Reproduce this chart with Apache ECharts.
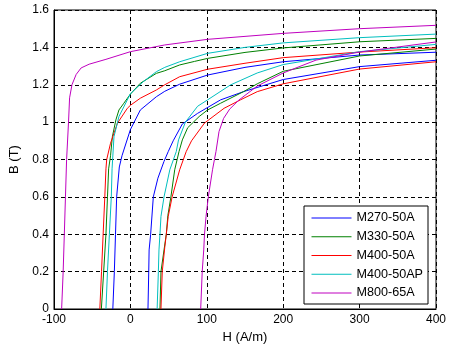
<!DOCTYPE html>
<html>
<head>
<meta charset="utf-8">
<script src="https://cdn.jsdelivr.net/npm/echarts@6/dist/echarts.min.js"></script>
<style>html,body{margin:0;padding:0;background:#fff;}#c{width:452px;height:350px;}</style>
</head>
<body>
<div id="c"></div>
<script>
// ---- Data (H in A/m, B in T) ----
const materials = ['M270-50A', 'M330-50A', 'M400-50A', 'M400-50AP', 'M800-65A'];
const colors = ['#0000FF', '#008000', '#FF0000', '#00BFBF', '#BF00BF'];
const xTicks = [-100, 0, 100, 200, 300, 400];
const yTicks = [0, 0.2, 0.4, 0.6, 0.8, 1, 1.2, 1.4, 1.6];

// M270-50A
const m270_upper_H = [-23, -21, -19.5, -18, -14.5, -11, -8.6, 0, 13, 34, 45, 64.5, 101, 150, 200, 300, 400];
const m270_upper_B = [0, 0.2, 0.4, 0.6, 0.76, 0.82, 0.851, 0.96, 1.065, 1.136, 1.165, 1.203, 1.252, 1.293, 1.323, 1.359, 1.374];
const m270_lower_H = [23, 24, 24.5, 26.5, 30, 36, 44, 49.5, 56, 68, 88, 118, 148, 200, 300, 400];
const m270_lower_B = [0, 0.2, 0.316, 0.4, 0.6, 0.7, 0.79, 0.842, 0.9, 0.99, 1.047, 1.119, 1.163, 1.228, 1.297, 1.331];

// M330-50A
const m330_upper_H = [-38, -35, -32, -30, -28.5, -26, -23.6, -19, -15, -8.6, 0, 13, 34, 45, 64.5, 84, 101, 150, 200, 300, 400];
const m330_upper_B = [0, 0.2, 0.4, 0.6, 0.75, 0.82, 0.922, 1.012, 1.065, 1.101, 1.15, 1.208, 1.261, 1.275, 1.306, 1.325, 1.341, 1.373, 1.397, 1.43, 1.448];
const m330_lower_H = [38.7, 40, 44, 47, 49, 53, 58, 63.6, 68, 75, 90, 101, 118, 148, 166, 200, 300, 400];
const m330_lower_B = [0, 0.2, 0.316, 0.4, 0.5, 0.6, 0.745, 0.842, 0.905, 0.97, 1.03, 1.065, 1.101, 1.163, 1.205, 1.272, 1.354, 1.391];

// M400-50A
const m400_upper_H = [-40, -37.8, -35.7, -33.5, -32, -31, -26, -17, -4, 0, 13, 34, 45, 64.5, 101, 150, 200, 300, 400];
const m400_upper_B = [0, 0.2, 0.4, 0.6, 0.75, 0.8, 0.887, 0.994, 1.074, 1.09, 1.128, 1.172, 1.2, 1.243, 1.283, 1.315, 1.345, 1.375, 1.398];
const m400_lower_H = [40, 41.7, 45, 47, 49.5, 54.6, 64.5, 73, 80, 97, 122.6, 144, 166, 200, 300, 400];
const m400_lower_B = [0, 0.2, 0.33, 0.4, 0.495, 0.6, 0.745, 0.842, 0.9, 0.995, 1.074, 1.119, 1.163, 1.205, 1.284, 1.323];

// M400-50AP
const m400ap_upper_H = [-32, -30, -27.5, -25, -24, -21.5, -15, 0, 17, 34, 45, 64.5, 101, 150, 200, 300, 400];
const m400ap_upper_B = [0, 0.2, 0.4, 0.6, 0.75, 0.922, 1.03, 1.152, 1.217, 1.27, 1.293, 1.323, 1.368, 1.40, 1.424, 1.452, 1.471];
const m400ap_lower_H = [35, 36.6, 37.4, 38.7, 40, 44, 51.6, 60, 63, 72, 88, 101, 131, 166, 200, 300, 400];
const m400ap_lower_B = [0, 0.2, 0.316, 0.4, 0.495, 0.6, 0.745, 0.842, 0.905, 1.0, 1.085, 1.119, 1.199, 1.263, 1.308, 1.377, 1.416];

// M800-65A
const m800_upper_H = [-90, -88, -86.5, -85, -83.5, -81, -79.6, -76.5, -71, -64.5, -54, -32, 0, 45, 101, 200, 300, 400];
const m800_upper_B = [0, 0.2, 0.4, 0.6, 0.8, 1.0, 1.13, 1.2, 1.255, 1.29, 1.31, 1.336, 1.377, 1.413, 1.443, 1.475, 1.50, 1.518];
const m800_lower_H = [92, 94, 96, 97, 99, 102, 107.5, 110, 112, 116, 122, 130, 142, 166, 200, 243, 300, 400];
const m800_lower_B = [0, 0.2, 0.316, 0.4, 0.495, 0.6, 0.745, 0.8, 0.842, 0.95, 1.02, 1.07, 1.118, 1.193, 1.263, 1.332, 1.375, 1.429];

const curves = [
  [m270_upper_H, m270_upper_B, m270_lower_H, m270_lower_B],
  [m330_upper_H, m330_upper_B, m330_lower_H, m330_lower_B],
  [m400_upper_H, m400_upper_B, m400_lower_H, m400_lower_B],
  [m400ap_upper_H, m400ap_upper_B, m400ap_lower_H, m400ap_lower_B],
  [m800_upper_H, m800_upper_B, m800_lower_H, m800_lower_B]
];

function pairs(hs, bs) { return hs.map((h, i) => [h, bs[i]]); }

const series = [];
materials.forEach((name, i) => {
  const c = curves[i];
  [[c[0], c[1]], [c[2], c[3]]].forEach(br => {
    series.push({
      name: name,
      type: 'line',
      data: pairs(br[0], br[1]),
      symbol: 'none',
      showSymbol: false,
      smooth: false,
      color: colors[i],
      itemStyle: { color: colors[i] },
      lineStyle: { width: 1, color: colors[i] },
      animation: false
    });
  });
});

const FONT = 'Liberation Sans, Arial, sans-serif';
const chart = echarts.init(document.getElementById('c'), null, { renderer: 'canvas' });
chart.setOption({
  animation: false,
  backgroundColor: '#fff',
  grid: { left: 48, top: 10, right: 16, bottom: 41, show: true, borderColor: '#000', borderWidth: 1, backgroundColor: 'transparent' },
  xAxis: {
    type: 'value',
    min: xTicks[0], max: xTicks[xTicks.length - 1], interval: xTicks[1] - xTicks[0],
    name: 'H (A/m)', nameLocation: 'middle', nameGap: 21,
    nameTextStyle: { color: '#000', fontSize: 13, fontFamily: FONT },
    axisLine: { show: true, onZero: false, lineStyle: { color: '#000', width: 1 } },
    axisTick: { show: false },
    axisLabel: { color: '#000', fontSize: 12, fontFamily: FONT, margin: 5 },
    splitLine: { show: true, lineStyle: { color: '#000', type: [4, 3], width: 1 } }
  },
  yAxis: {
    type: 'value',
    min: yTicks[0], max: yTicks[yTicks.length - 1], interval: 0.2,
    name: 'B (T)', nameLocation: 'middle', nameGap: 33,
    nameTextStyle: { color: '#000', fontSize: 13, fontFamily: FONT },
    axisLine: { show: true, onZero: false, lineStyle: { color: '#000', width: 1 } },
    axisTick: { show: false },
    axisLabel: { color: '#000', fontSize: 12, fontFamily: FONT, margin: 5 },
    splitLine: { show: true, lineStyle: { color: '#000', type: [4, 3], width: 1 } }
  },
  legend: {
    data: materials,
    orient: 'vertical',
    left: 304, top: 206,
    padding: [5, 5, 4, 7],
    itemWidth: 40, itemHeight: 14, itemGap: 4.75,
    itemStyle: { opacity: 0 },
    lineStyle: { width: 1 },
    borderColor: '#000', borderWidth: 1, backgroundColor: '#fff',
    textStyle: { color: '#000', fontSize: 12.6, fontFamily: FONT, lineHeight: 14 },
    selectedMode: false
  },
  series: series
});
</script>
</body>
</html>
